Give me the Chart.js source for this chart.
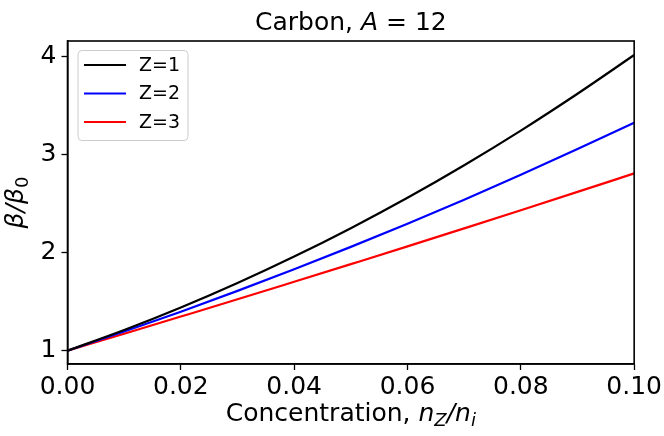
<!DOCTYPE html>
<html>
<head>
<meta charset="utf-8">
<script src="https://cdn.jsdelivr.net/npm/chart.js@4"></script>
<style>
  html, body { margin: 0; padding: 0; background: #fff; }
  #wrap { width: 664px; height: 436px; }
</style>
</head>
<body>
<div id="wrap"><canvas id="betaChart" width="664" height="436"></canvas></div>
<script>
// concentration n_Z/n_i
var concentration = [0, 0.01, 0.02, 0.03, 0.04, 0.05, 0.06, 0.07, 0.08, 0.09, 0.10];
// beta/beta0 for each charge state
var betaZ1 = [1, 1.21, 1.44, 1.69, 1.96, 2.25, 2.56, 2.892, 3.246, 3.622, 4.017];
var betaZ2 = [1, 1.195, 1.398, 1.610, 1.830, 2.059, 2.296, 2.541, 2.795, 3.057, 3.327];
var betaZ3 = [1, 1.173, 1.348, 1.524, 1.703, 1.883, 2.064, 2.248, 2.433, 2.620, 2.809];
var seriesLabels = ['Z=1', 'Z=2', 'Z=3'];
var seriesColors = ['#000000', '#0000ff', '#ff0000'];
var xTicks = [0, 0.02, 0.04, 0.06, 0.08, 0.10];
var yTicks = [1, 2, 3, 4];

var FONT = '"DejaVu Sans", sans-serif';

function toPoints(ys) {
    return concentration.map(function (x, i) { return { x: x, y: ys[i] }; });
}

// draw a run of text pieces (mixed italic / subscript) centred on cx
function drawParts(ctx, parts, cx, y) {
    var w = 0;
    parts.forEach(function (p) { ctx.font = p.f; w += ctx.measureText(p.t).width; });
    var px = cx - w / 2;
    parts.forEach(function (p) {
        ctx.font = p.f;
        ctx.fillText(p.t, px, y + (p.dy || 0));
        px += ctx.measureText(p.t).width;
    });
}

// Draws frame, title, axis labels and legend like matplotlib
var decorations = {
    id: 'decorations',
    afterDraw: function (chart) {
        var ctx = chart.ctx;
        var a = chart.chartArea;
        ctx.save();

        // frame
        ctx.strokeStyle = '#000';
        ctx.lineWidth = 1.6;
        ctx.strokeRect(a.left, a.top, a.right - a.left, a.bottom - a.top);

        ctx.fillStyle = '#000';
        ctx.textBaseline = 'alphabetic';
        ctx.textAlign = 'left';
        var cx = (a.left + a.right) / 2;

        // title
        drawParts(ctx, [
            { t: 'Carbon, ', f: '25px ' + FONT },
            { t: 'A', f: 'italic 25px ' + FONT },
            { t: ' = 12', f: '25px ' + FONT }
        ], cx, 30);

        // x label
        drawParts(ctx, [
            { t: 'Concentration, ', f: '25px ' + FONT },
            { t: 'n', f: 'italic 25px ' + FONT },
            { t: 'Z', f: 'italic 18px ' + FONT, dy: 5 },
            { t: '/', f: 'italic 25px ' + FONT },
            { t: 'n', f: 'italic 25px ' + FONT },
            { t: 'i', f: 'italic 18px ' + FONT, dy: 5 }
        ], cx, 421);

        // y label, rotated
        ctx.translate(23, (a.top + a.bottom) / 2);
        ctx.rotate(-Math.PI / 2);
        drawParts(ctx, [
            { t: 'β/β', f: 'italic 25px ' + FONT },
            { t: '0', f: '18px ' + FONT, dy: 5 }
        ], 0, 0);
        ctx.setTransform(1, 0, 0, 1, 0, 0);

        // legend
        var lx = a.left + 10.5, ly = a.top + 9.5, lw = 110, lh = 90;
        ctx.beginPath();
        if (ctx.roundRect) ctx.roundRect(lx, ly, lw, lh, 4); else ctx.rect(lx, ly, lw, lh);
        ctx.fillStyle = 'rgba(255,255,255,0.8)';
        ctx.fill();
        ctx.strokeStyle = '#cccccc';
        ctx.lineWidth = 1;
        ctx.stroke();
        ctx.font = '19px ' + FONT;
        ctx.textBaseline = 'middle';
        chart.data.datasets.forEach(function (ds, i) {
            var yy = ly + 14.5 + i * 28.5;
            ctx.strokeStyle = ds.borderColor;
            ctx.lineWidth = 2.2;
            ctx.beginPath();
            ctx.moveTo(lx + 6, yy);
            ctx.lineTo(lx + 48, yy);
            ctx.stroke();
            ctx.fillStyle = '#000';
            ctx.fillText(ds.label, lx + 61, yy + 1);
        });

        ctx.restore();
    }
};

var ctx = document.getElementById('betaChart').getContext('2d');
var betaChart = new Chart(ctx, {
    type: 'line',
    data: {
        datasets: [betaZ1, betaZ2, betaZ3].map(function (ys, i) {
            return {
                label: seriesLabels[i],
                data: toPoints(ys),
                borderColor: seriesColors[i],
                backgroundColor: seriesColors[i],
                borderWidth: 2.2,
                pointRadius: 0,
                cubicInterpolationMode: 'monotone',
                fill: false
            };
        })
    },
    options: {
        responsive: false,
        animation: false,
        layout: { padding: { top: 41, right: 29, left: 0, bottom: 0 } },
        plugins: {
            legend: { display: false },
            tooltip: { enabled: false },
            title: { display: false }
        },
        scales: {
            x: {
                type: 'linear',
                min: 0,
                max: 0.1,
                afterFit: function (s) { s.height = 72; },
                afterBuildTicks: function (s) { s.ticks = xTicks.map(function (v) { return { value: v }; }); },
                ticks: {
                    color: '#000',
                    font: { family: FONT, size: 25 },
                    padding: 2,
                    maxRotation: 0,
                    callback: function (v) { return Number(v).toFixed(2); }
                },
                grid: { drawOnChartArea: false, tickLength: 6, tickColor: '#000', tickWidth: 1.3 },
                border: { color: '#000', width: 1.6 }
            },
            y: {
                type: 'linear',
                min: 0.864,
                max: 4.16,
                afterFit: function (s) { s.width = 67.5; },
                afterBuildTicks: function (s) { s.ticks = yTicks.map(function (v) { return { value: v }; }); },
                ticks: {
                    color: '#000',
                    font: { family: FONT, size: 25 },
                    padding: 5,
                    callback: function (v) { return String(v); }
                },
                grid: { drawOnChartArea: false, tickLength: 6, tickColor: '#000', tickWidth: 1.3 },
                border: { color: '#000', width: 1.6 }
            }
        }
    },
    plugins: [decorations]
});
</script>
</body>
</html>
